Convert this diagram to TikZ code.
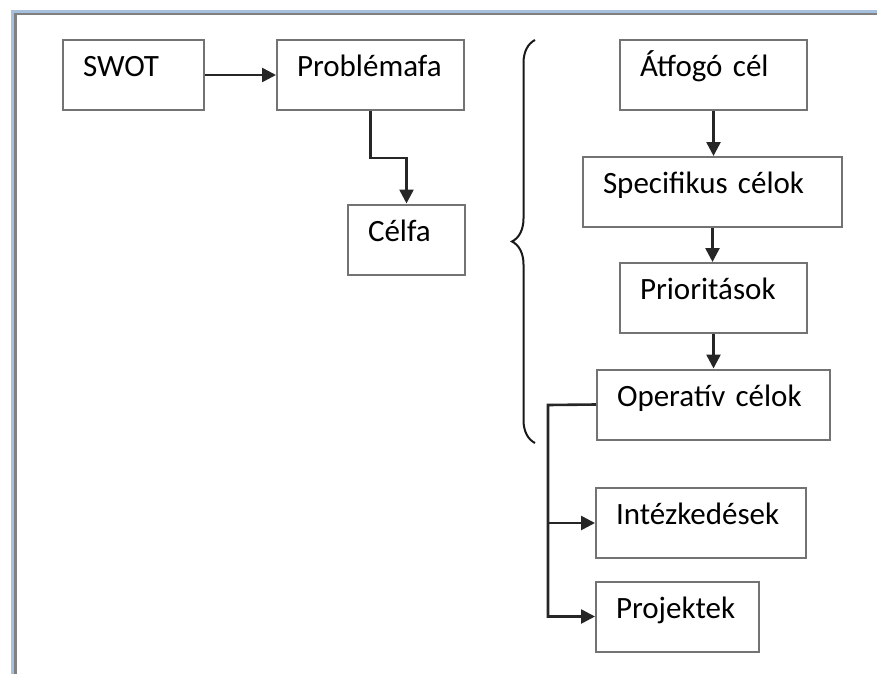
\documentclass[tikz,border=0pt]{standalone}
\usepackage{fontspec}
\setmainfont{Carlito}
\usetikzlibrary{arrows.meta, decorations.pathreplacing}

\definecolor{framegray}{RGB}{128,128,128}
\definecolor{frameblue}{RGB}{167,192,222}

\begin{document}
\begin{tikzpicture}[
  x=1pt, y=-1pt,
  font=\fontsize{31}{37}\selectfont,
  stage/.style={draw=black!55, line width=2pt, align=left, inner xsep=20pt,
    minimum height=70pt, text height=0.75em, text depth=0.42em},
  flow/.style={-{Triangle[length=14pt, width=14pt]}, line width=2.6pt, draw=black!85},
  curly/.style={decorate, decoration={brace, amplitude=23pt}, line width=2pt, draw=black!90}
]
\useasboundingbox (0,0) rectangle (877,674);

% --- window frame (top and left edge) ---
\fill[frameblue] (11,10) rectangle (877,12.8);
\fill[framegray] (14.3,12.8) rectangle (877,15.5);
\fill[frameblue] (11,10) rectangle (14.3,674);
\fill[framegray] (14.3,12.8) rectangle (16.5,674);

% --- analysis chain ---
\node[stage, text width=101pt] (swot) at (133.5,75) {SWOT};
\node[stage, text width=147pt] (probl) at (370.5,75) {Problémafa};
\node[stage, text width=77pt] (celfa) at (406.5,239.5) {Célfa};

\draw[flow] (swot.east) -- (probl.west);
\draw[flow] (probl.south) -- ++(0,47) -| (celfa.north);

% --- the brace grouping the goal hierarchy ---
\coordinate (bracetop) at (535,40);
\coordinate (bracebot) at (535,443);
\draw[curly] (bracebot) -- (bracetop);

% --- goal hierarchy ---
\node[stage, text width=147pt] (atfogo) at (713.5,75) {Átfogó cél};
\node[stage, text width=219pt] (spec) at (712.5,192) {Specifikus célok};
\node[stage, text width=147pt] (prior) at (713.5,298) {Prioritások};
\node[stage, text width=193pt] (oper) at (713.5,404.5) {Operatív célok};
\node[stage, text width=170pt] (intez) at (701,523) {Intézkedések};
\node[stage, text width=123pt] (proj) at (677.5,616.5) {Projektek};

\draw[flow] (atfogo.south) -- (atfogo.south |- spec.north);
\draw[flow] (spec.south) -- (spec.south |- prior.north);
\draw[flow] (prior.south) -- (prior.south |- oper.north);

% operative goals split into measures and projects
\coordinate (bus) at (548,405);
\draw[flow] (oper.west) -- (bus) |- (proj.west);
\draw[flow] (bus |- intez.west) -- (intez.west);

\end{tikzpicture}
\end{document}
